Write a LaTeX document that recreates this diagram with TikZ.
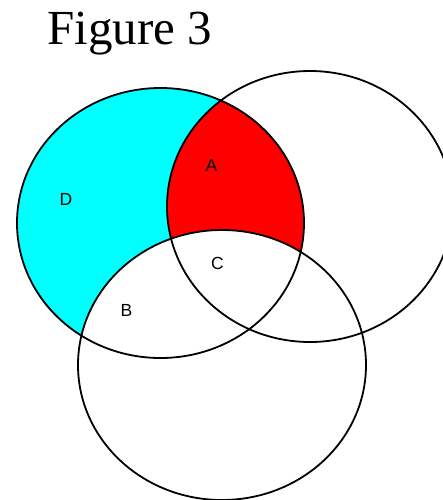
\documentclass[tikz,border=0pt]{standalone}
\usepackage{fontspec}
\setmainfont{Liberation Serif}
\newfontfamily\labelfont{Liberation Sans}
\definecolor{cyanfill}{RGB}{0,255,255}
\definecolor{redfill}{RGB}{255,0,0}
\begin{document}
\begin{tikzpicture}[x=1pt,y=-1pt,
  ring/.style={draw=black,line width=1.8pt},
  lbl/.style={font=\labelfont\fontsize{17.5}{17.5}\selectfont,inner sep=0pt}]
\useasboundingbox (0,0) rectangle (442,500);
\def\Lpath{(160.5,223) ellipse [x radius=143.5, y radius=135]}
\def\Rpath{(310,206.5) ellipse [x radius=143, y radius=135.5]}
\def\Bpath{(222,365) ellipse [x radius=144, y radius=135]}
% fills
\fill[cyanfill] \Lpath;
\begin{scope}
  \clip \Lpath;
  \fill[redfill] \Rpath;
  \fill[white] \Bpath;
\end{scope}
% outlines
\draw[ring] \Lpath;
\draw[ring] \Rpath;
\draw[ring] \Bpath;
% title
\node[anchor=base west,inner sep=0pt,font=\fontsize{49}{49}\selectfont] (title) at (47,45) {Figure 3};
% labels
\node[lbl] (A) at (211.5,165.5) {A};
\node[lbl] (D) at (66,199.5) {D};
\node[lbl] (C) at (217.5,263.5) {C};
\node[lbl] (B) at (126.5,310.5) {B};
\end{tikzpicture}
\end{document}
